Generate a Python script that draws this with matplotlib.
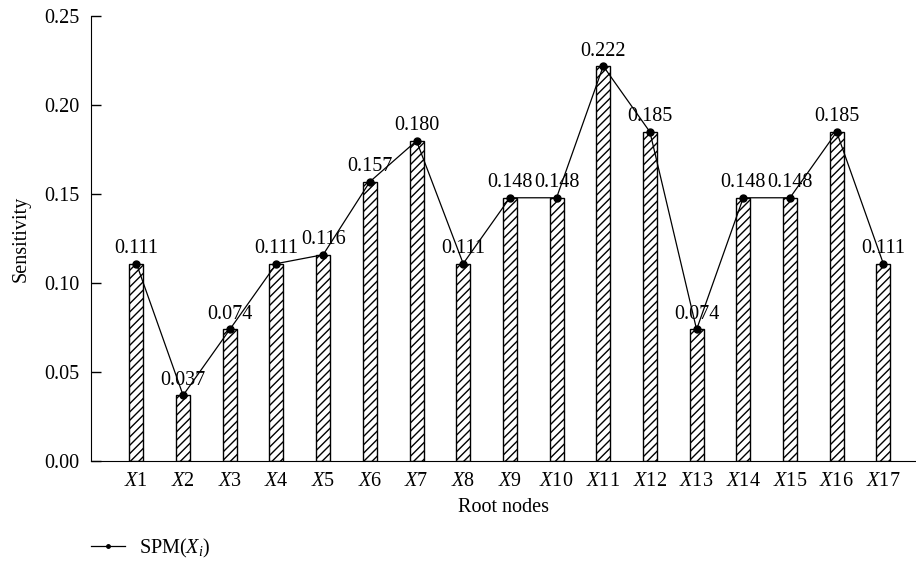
import numpy as np
import matplotlib.pyplot as plt

plt.rcParams["font.family"] = "Liberation Serif"
plt.rcParams["mathtext.fontset"] = "custom"
plt.rcParams["mathtext.rm"] = "Liberation Serif"
plt.rcParams["mathtext.it"] = "Liberation Serif:italic"
plt.rcParams["hatch.linewidth"] = 1.0

nodes = [f"X{i}" for i in range(1, 18)]
sensitivity = [0.111, 0.037, 0.074, 0.111, 0.116, 0.157, 0.180, 0.111, 0.148,
               0.148, 0.222, 0.185, 0.074, 0.148, 0.148, 0.185, 0.111]
value_labels = ["0.111", "0.037", "0.074", "0.111", "0.116", "0.157", "0.180", "0.111", "0.148",
                "0.148", "0.222", "0.185", "0.074", "0.148", "0.148", "0.185", "0.111"]

x = np.arange(len(nodes))

fig = plt.figure(figsize=(9.16, 5.61), dpi=100)
ax = fig.add_axes([0.099, 0.178, 0.901, 0.793])

ax.bar(x, sensitivity, width=0.3, color="white", edgecolor="black",
       hatch="////", linewidth=1.0)
ax.plot(x, sensitivity, color="black", linewidth=0.9, marker="o",
        markersize=5, label=r"SPM($\mathit{X}_{\mathit{i}}$)")

for xi, v, t in zip(x, sensitivity, value_labels):
    ax.annotate(t, (xi, v), xytext=(0, 4), textcoords="offset points",
                ha="center", va="bottom", fontsize=14.5)

ax.set_xlim(-0.98, 16.7)
ax.set_ylim(0, 0.25)
ax.set_yticks([0, 0.05, 0.10, 0.15, 0.20, 0.25])
ax.set_yticklabels(["0.00", "0.05", "0.10", "0.15", "0.20", "0.25"])
ax.set_xticks(x)
ax.set_xticklabels([r"$\mathit{X}$" + n[1:] for n in nodes])
ax.tick_params(axis="y", direction="in", length=7, labelsize=14.5, width=1, pad=8)
ax.tick_params(axis="x", length=0, labelsize=14.5, pad=8)

ax.spines["top"].set_visible(False)
ax.spines["right"].set_visible(False)

ax.set_xlabel("Root nodes", fontsize=14.5, labelpad=5)
ax.set_ylabel("Sensitivity", fontsize=14.5, labelpad=10)

fig.legend(loc="lower left", bbox_to_anchor=(0.098, 0.0), frameon=False,
           fontsize=14.5, handlelength=1.7, handletextpad=0.7,
           borderpad=0.05, borderaxespad=0, markerscale=0.5)

fig.savefig("out.png", dpi=100)
